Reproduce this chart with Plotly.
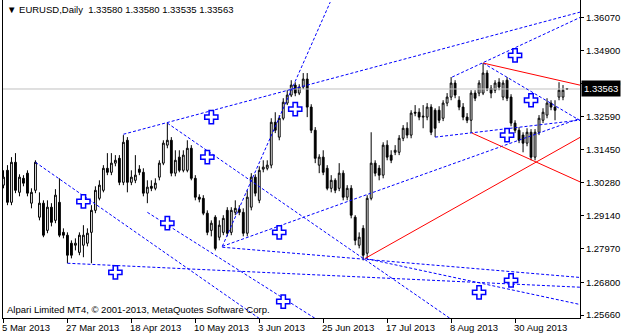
import plotly.graph_objects as go

# ---- data (bar index 0 = 5 Mar 2013, daily bars, weekends skipped) ----
opens = [1.3020,1.3072,1.2960,1.3100,1.2995,1.3044,1.3062,1.2957,1.3002,1.2908,
 1.2957,1.2862,1.2943,1.2897,1.2960,1.2855,1.2845,1.2817,1.2810,1.2785,
 1.2810,1.2817,1.2855,1.2932,1.2974,1.3002,1.3079,1.3065,1.3097,1.3114,
 1.3030,1.3177,1.3030,1.3037,1.3076,1.3065,1.2992,1.3016,1.3009,1.3048,
 1.3097,1.3160,1.3177,1.3062,1.3118,1.3072,1.3072,1.3149,1.3044,1.2978,
 1.2974,1.2922,1.2862,1.2908,1.2838,1.2855,1.2932,1.2855,1.2925,1.2936,
 1.2925,1.2852,1.2943,1.3048,1.2967,1.3076,1.3079,1.3090,1.3240,1.3188,
 1.3254,1.3307,1.3335,1.3370,1.3342,1.3363,1.3391,1.3293,1.3212,1.3090,
 1.3118,1.3079,1.3009,1.3037,1.3009,1.3062,1.2978,1.3009,1.2908,1.2810,
 1.2869,1.2782,1.2974,1.3097,1.3079,1.3055,1.3160,1.3125,1.3135,1.3135,
 1.3184,1.3219,1.3195,1.3275,1.3275,1.3258,1.3258,1.3293,1.3282,1.3282,
 1.3254,1.3307,1.3328,1.3377,1.3317,1.3293,1.3258,1.3247,1.3342,1.3342,
 1.3342,1.3412,1.3359,1.3352,1.3380,1.3328,1.3387,1.3328,1.3237,1.3212,
 1.3195,1.3167,1.3205,1.3118,1.3205,1.3247,1.3265,1.3307,1.3293,1.3328,
 1.3328,1.33580]
highs = [1.3072,1.3090,1.3118,1.3132,1.3058,1.3055,1.3072,1.3009,1.3107,1.2995,
 1.2967,1.2967,1.2957,1.3006,1.3044,1.2869,1.2855,1.2827,1.2834,1.2855,
 1.2880,1.2869,1.2950,1.3016,1.3037,1.3090,1.3132,1.3132,1.3125,1.3125,
 1.3195,1.3188,1.3072,1.3125,1.3090,1.3079,1.3037,1.3037,1.3044,1.3107,
 1.3177,1.3237,1.3188,1.3142,1.3142,1.3142,1.3177,1.3160,1.3055,1.2988,
 1.2985,1.2932,1.2897,1.2915,1.2897,1.2915,1.2943,1.2943,1.2967,1.2950,
 1.2939,1.3002,1.3062,1.3058,1.3086,1.3107,1.3107,1.3254,1.3275,1.3265,
 1.3324,1.3352,1.3387,1.3380,1.3373,1.3412,1.3412,1.3303,1.3223,1.3128,
 1.3142,1.3090,1.3055,1.3044,1.3097,1.3072,1.3020,1.3020,1.2915,1.2855,
 1.2880,1.2985,1.3205,1.3107,1.3090,1.3170,1.3177,1.3142,1.3160,1.3195,
 1.3230,1.3240,1.3282,1.3300,1.3289,1.3300,1.3307,1.3303,1.3289,1.3296,
 1.3317,1.3342,1.3398,1.3387,1.3331,1.3307,1.3272,1.3352,1.3352,1.3387,
 1.3447,1.3422,1.3370,1.3387,1.3394,1.3387,1.3398,1.3338,1.3247,1.3223,
 1.3205,1.3219,1.3216,1.3216,1.3265,1.3289,1.3324,1.3317,1.3317,1.3380,
 1.3370,1.33580]
lows = [1.3009,1.2950,1.2950,1.2992,1.2981,1.3016,1.2981,1.2939,1.2992,1.2897,
 1.2838,1.2852,1.2876,1.2887,1.2838,1.2834,1.2747,1.2764,1.2792,1.2775,
 1.2768,1.2806,1.2747,1.2922,1.2967,1.2995,1.3055,1.3055,1.3086,1.3020,
 1.3020,1.2995,1.3020,1.3027,1.3055,1.2981,1.2957,1.2999,1.3002,1.3037,
 1.3090,1.3149,1.3051,1.3051,1.3065,1.3065,1.3065,1.3037,1.2967,1.2960,
 1.2915,1.2845,1.2841,1.2792,1.2827,1.2845,1.2841,1.2845,1.2915,1.2915,
 1.2841,1.2841,1.2932,1.2981,1.2957,1.3065,1.3072,1.3079,1.3202,1.3177,
 1.3247,1.3300,1.3328,1.3331,1.3335,1.3356,1.3258,1.3202,1.3097,1.3062,
 1.3055,1.3002,1.2995,1.2992,1.2999,1.2967,1.2967,1.2904,1.2810,1.2799,
 1.2757,1.2764,1.2967,1.3051,1.3037,1.3044,1.3107,1.3097,1.3125,1.3125,
 1.3174,1.3184,1.3184,1.3261,1.3247,1.3219,1.3247,1.3195,1.3188,1.3237,
 1.3244,1.3296,1.3317,1.3324,1.3282,1.3247,1.3237,1.3202,1.3314,1.3331,
 1.3335,1.3349,1.3324,1.3342,1.3352,1.3317,1.3314,1.3226,1.3202,1.3167,
 1.3135,1.3156,1.3107,1.3107,1.3195,1.3237,1.3254,1.3282,1.3247,1.3317,
 1.3317,1.33535]
closes = [1.3048,1.2960,1.3100,1.3002,1.3048,1.3027,1.2992,1.2995,1.3100,1.2957,
 1.2845,1.2943,1.2890,1.2985,1.2845,1.2845,1.2775,1.2775,1.2817,1.2845,
 1.2845,1.2852,1.2932,1.3002,1.3020,1.3079,1.3065,1.3097,1.3107,1.3030,
 1.3170,1.3030,1.3048,1.3055,1.3065,1.2992,1.3013,1.3009,1.3027,1.3097,
 1.3167,1.3177,1.3062,1.3107,1.3072,1.3125,1.3149,1.3044,1.2978,1.2971,
 1.2922,1.2855,1.2887,1.2799,1.2880,1.2904,1.2852,1.2932,1.2939,1.2925,
 1.2852,1.2978,1.3048,1.2992,1.3072,1.3083,1.3090,1.3240,1.3212,1.3254,
 1.3310,1.3335,1.3370,1.3342,1.3363,1.3391,1.3293,1.3212,1.3114,1.3118,
 1.3065,1.3009,1.3037,1.3002,1.3062,1.2978,1.3009,1.2915,1.2827,1.2838,
 1.2775,1.2974,1.3097,1.3062,1.3055,1.3160,1.3118,1.3107,1.3142,1.3184,
 1.3219,1.3195,1.3272,1.3272,1.3258,1.3261,1.3293,1.3205,1.3219,1.3247,
 1.3307,1.3328,1.3377,1.3335,1.3293,1.3258,1.3247,1.3342,1.3324,1.3377,
 1.3412,1.3359,1.3342,1.3377,1.3363,1.3377,1.3324,1.3237,1.3212,1.3177,
 1.3167,1.3205,1.3118,1.3205,1.3254,1.3275,1.3307,1.3293,1.3282,1.3352,
 1.3352,1.33563]

date_tick_idx = [0, 16, 32, 48, 64, 80, 96, 112, 128]
date_tick_txt = ["5 Mar 2013", "27 Mar 2013", "18 Apr 2013", "10 May 2013", "3 Jun 2013",
                 "25 Jun 2013", "17 Jul 2013", "8 Aug 2013", "30 Aug 2013"]
price_ticks = [1.36070, 1.34900, 1.33760, 1.32590, 1.31450, 1.30280, 1.29140, 1.27970, 1.26800, 1.25660]

last_price = 1.33563
header = "▼ EURUSD,Daily  1.33580 1.33580 1.33535 1.33563"
footer = "Alpari Limited MT4, © 2001-2013, MetaQuotes Software Corp."

# trend lines: (bar0, price0, bar1, price1)
blue_lines = [
    (30, 1.3198, 144.5, 1.3626),
    (112.25, 1.3398, 144.5, 1.3608),
    (54.75, 1.2806, 81.75, 1.3660),
    (8, 1.3100, 64, 1.2554),
    (36, 1.2925, 78, 1.2554),
    (41, 1.3237, 111.75, 1.2554),
    (54.75, 1.2806, 144.5, 1.3255),
    (108, 1.3188, 144.5, 1.3248),
    (120, 1.3447, 144.5, 1.3244),
    (16, 1.2747, 144.5, 1.2663),
    (54.75, 1.2803, 144.5, 1.2697),
    (90.5, 1.2764, 144.5, 1.2602),
]
red_lines = [
    (120, 1.3447, 144.5, 1.3369),
    (117.25, 1.3202, 144.5, 1.3030),
    (90.5, 1.2764, 144.5, 1.3189),
]
cross_bar = [20, 28, 41, 51, 52, 69, 70, 73, 128, 132, 126, 119, 127]
cross_price = [1.2963, 1.2715, 1.2887, 1.3118, 1.3258, 1.2855, 1.2613, 1.3286,
               1.3474, 1.3317, 1.3195, 1.2645, 1.2687]

FONT = "Liberation Sans, Arial, sans-serif"
xs = list(range(len(opens)))
X0, X1 = -0.12, 144.25
Y0, Y1 = 1.25555, 1.36675

fig = go.Figure()
fig.add_trace(go.Scatter(x=[X0, 200], y=[last_price, last_price], mode="lines",
                         line=dict(color="#c0c0c0", width=1), hoverinfo="skip"))
fig.add_trace(go.Candlestick(
    x=xs, open=opens, high=highs, low=lows, close=closes,
    increasing=dict(line=dict(color="black", width=1), fillcolor="white"),
    decreasing=dict(line=dict(color="black", width=1), fillcolor="black"),
    whiskerwidth=0, hoverinfo="skip"))
for (a, b, c, d) in blue_lines:
    fig.add_trace(go.Scatter(x=[a, c], y=[b, d], mode="lines",
                             line=dict(color="#0000ff", width=1, dash="3px,2px")))
for (a, b, c, d) in red_lines:
    fig.add_trace(go.Scatter(x=[a, c], y=[b, d], mode="lines",
                             line=dict(color="#ff0000", width=1)))
fig.add_trace(go.Scatter(x=cross_bar, y=cross_price, mode="markers",
                         marker=dict(symbol="cross", size=11, color="white",
                                     line=dict(color="#0000ff", width=1.5))))

ann = []
for i, t in zip(date_tick_idx, date_tick_txt):
    ann.append(dict(x=i, xref="x", y=0, yref="paper", text=t, showarrow=False,
                    xanchor="left", yanchor="top", xshift=-3, yshift=-2,
                    font=dict(family=FONT, size=9.5, color="black")))
ann.append(dict(x=0, xref="paper", y=1, yref="paper", text=header, showarrow=False,
                xanchor="left", yanchor="top", xshift=2, yshift=-2,
                font=dict(family=FONT, size=9.5, color="black")))
ann.append(dict(x=0, xref="paper", y=0, yref="paper", text=footer, showarrow=False,
                xanchor="left", yanchor="bottom", xshift=2, yshift=1,
                font=dict(family=FONT, size=9.5, color="black")))
ann.append(dict(x=1, xref="paper", y=last_price, yref="y", text=f"{last_price:.5f}",
                showarrow=False, xanchor="left", yanchor="middle", xshift=1,
                bgcolor="black", borderpad=2,
                font=dict(family=FONT, size=9.5, color="white")))

fig.update_layout(
    width=623, height=336, margin=dict(l=3, r=43, t=0, b=18),
    paper_bgcolor="white", plot_bgcolor="white", showlegend=False,
    boxgap=0.35, annotations=ann,
    xaxis=dict(range=[X0, X1], showgrid=False, zeroline=False, showline=True,
               linecolor="black", linewidth=1, mirror=True, ticks="outside",
               ticklen=4, tickcolor="black", tickvals=date_tick_idx,
               showticklabels=False, rangeslider=dict(visible=False), fixedrange=True),
    yaxis=dict(range=[Y0, Y1], side="right", showgrid=False, zeroline=False,
               showline=True, linecolor="black", linewidth=1, mirror=True,
               ticks="outside", ticklen=3, tickcolor="black",
               tickvals=price_ticks, ticktext=[f"{v:.5f}" for v in price_ticks],
               tickfont=dict(family=FONT, size=9.5, color="black"), fixedrange=True),
)
fig.write_html("out.html")
